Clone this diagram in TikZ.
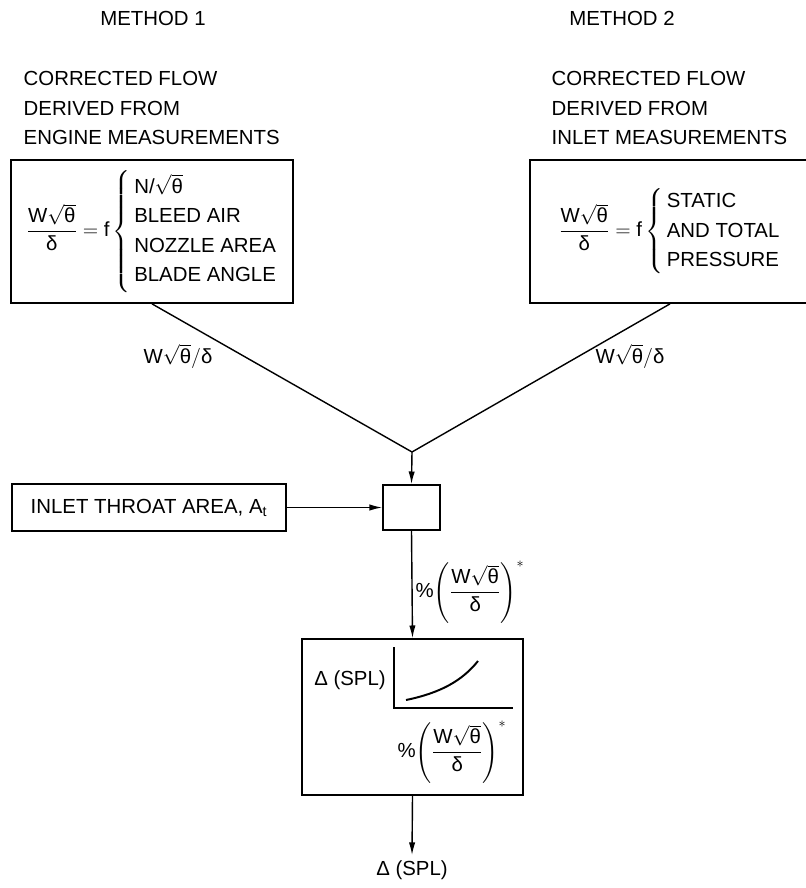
\documentclass[tikz,border=0pt]{standalone}
\usepackage{amsmath}
\usepackage{fontspec}
\setmainfont{Liberation Sans}
\usetikzlibrary{arrows.meta}
\newcommand{\wroot}{\text{W}\sqrt{\text{θ}}}
\newcommand{\corrflow}{\dfrac{\wroot}{\text{δ}}}

\begin{document}
\begin{tikzpicture}[x=0.025cm, y=-0.025cm, line width=1pt,
  every node/.style={font=\fontsize{14.5}{21}\selectfont},
  box/.style={draw, line width=1.2pt, inner sep=0pt},
  flow/.style={-{Latex[length=9pt,width=4.5pt]}}]
\useasboundingbox (0,0) rectangle (806,888);
\clip (0,0) rectangle (806,888);
\node (meth1) at (153,18) {METHOD 1};
\node (meth2) at (622,18) {METHOD 2};
\node[anchor=west, align=left, inner sep=0pt] (head1) at (23,108) {CORRECTED FLOW\\DERIVED FROM\\ENGINE MEASUREMENTS};
\node[anchor=west, align=left, inner sep=0pt] (head2) at (551,108) {CORRECTED FLOW\\DERIVED FROM\\INLET MEASUREMENTS};
\node[box, minimum width=7.05cm, minimum height=3.575cm] (lbox) at (152,231.5)
  {$\corrflow = \text{f}\left\{\,\begin{tabular}{@{}l@{}}N/$\sqrt{\text{θ}}$\\BLEED AIR\\NOZZLE AREA\\BLADE ANGLE\end{tabular}\right.$};
\node[box, minimum width=7cm, minimum height=3.575cm] (rbox) at (670,231.5)
  {$\corrflow = \text{f}\left\{\,\begin{tabular}{@{}l@{}}STATIC\\AND TOTAL\\PRESSURE\end{tabular}\right.$};
\coordinate (join) at (412,452);
\draw (lbox.south) -- (join);
\draw (rbox.south) -- (join);
\node (lflow) at (178,356) {$\wroot/\text{δ}$};
\node (rflow) at (630,356) {$\wroot/\text{δ}$};
\node[box, minimum width=1.425cm, minimum height=1.125cm] (mix) at (411.5,507.5) {};
\node[box, minimum width=6.85cm, minimum height=1.175cm] (throat) at (149,507.5) {INLET THROAT AREA, A$_\text{t}$};
\draw[flow] (join) -- (mix.north);
\draw[flow] (throat.east) -- (mix.west);
\node[box, minimum width=5.525cm, minimum height=3.9cm] (curve) at (412.5,717) {};
\draw[flow] (mix.south) -- (curve.north);
\node (pctin) at (470,592) {$\%\!\left(\corrflow\right)^{*}$};
\node (dspl) at (350,680) {Δ (SPL)};
\draw (394,647) -- (394,708) -- (513,708);
\draw[line width=1.4pt] (406,700) .. controls (440,693) and (462,681) .. (478,661);
\node (pctout) at (452,752) {$\%\!\left(\corrflow\right)^{*}$};
\node (result) at (412,870) {Δ (SPL)};
\draw[flow] (curve.south) -- (result.north);
\end{tikzpicture}
\end{document}
